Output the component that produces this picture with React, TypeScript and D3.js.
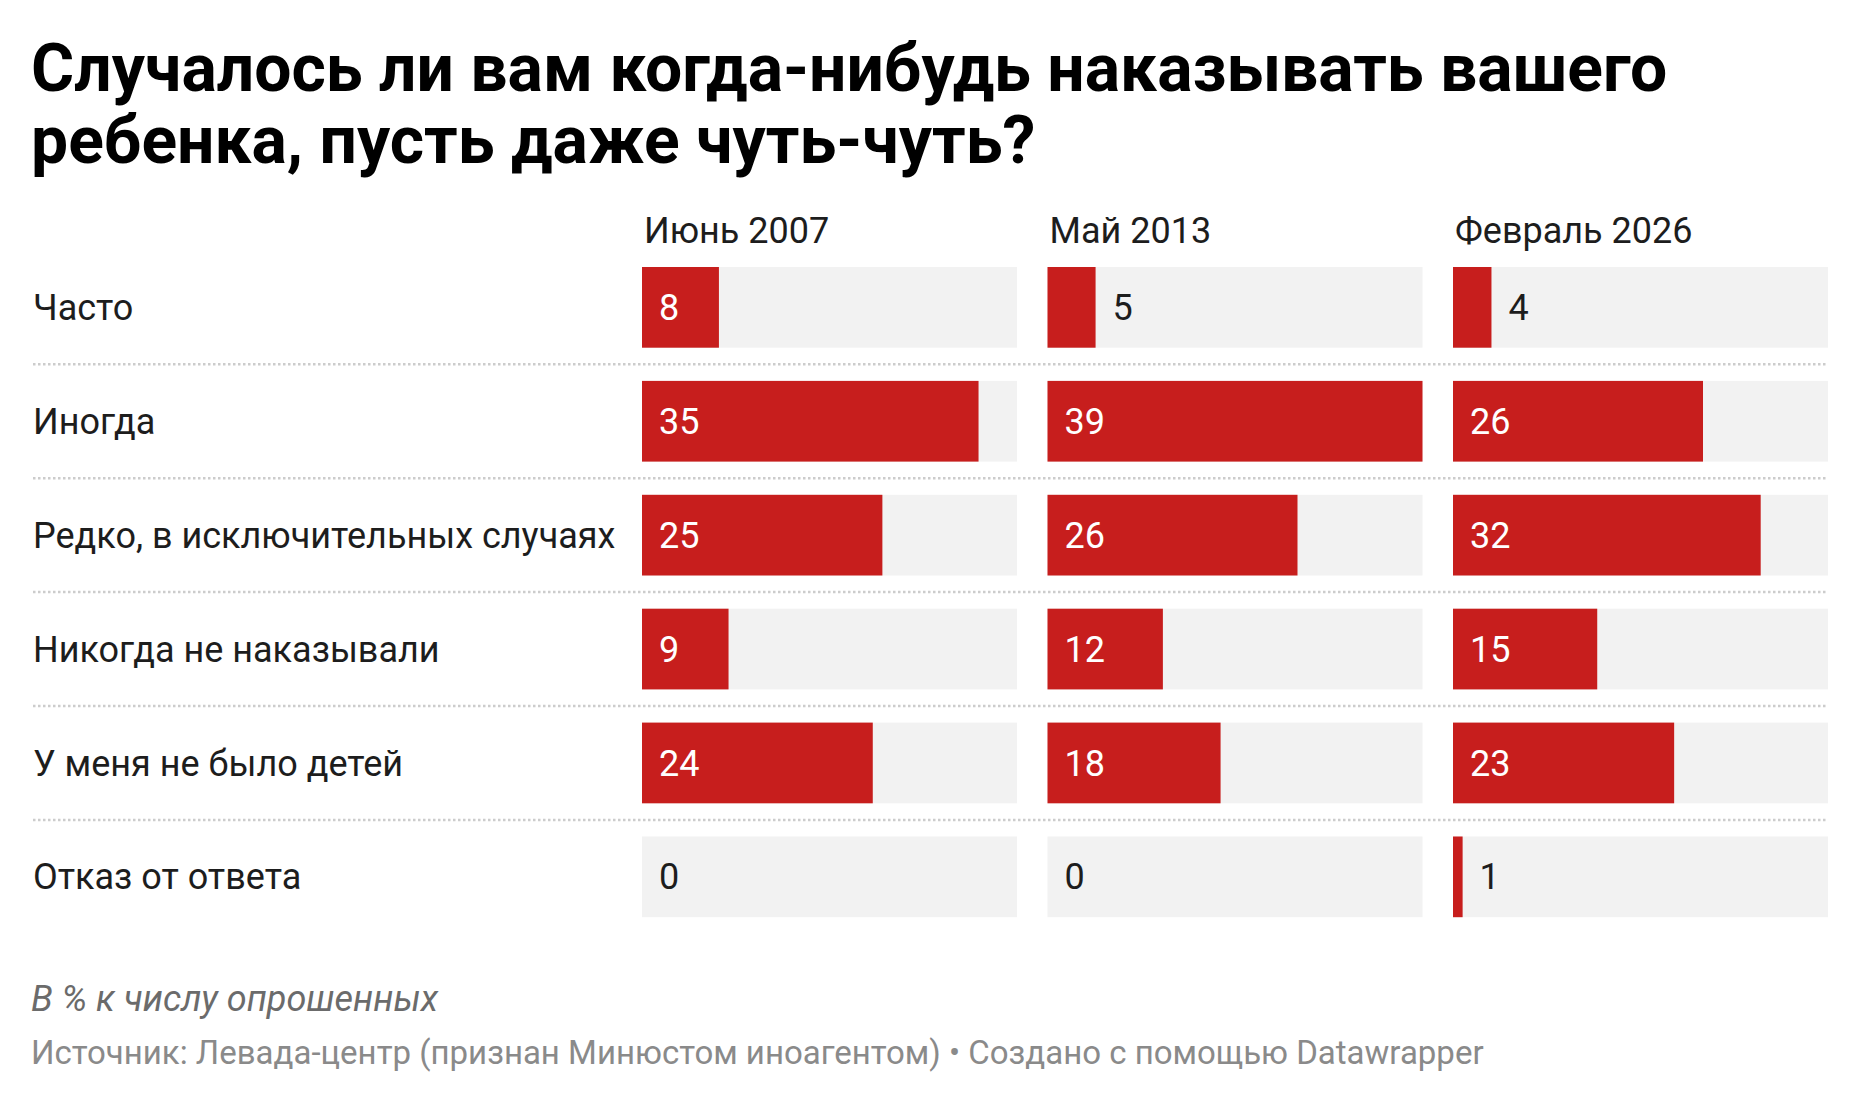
import React from "react";
import * as d3 from "d3";

const categories = [
  "Часто",
  "Иногда",
  "Редко, в исключительных случаях",
  "Никогда не наказывали",
  "У меня не было детей",
  "Отказ от ответа",
];
const periods = ["Июнь 2007", "Май 2013", "Февраль 2026"];
const june2007 = [8, 35, 25, 9, 24, 0];
const may2013 = [5, 39, 26, 12, 18, 0];
const feb2026 = [4, 26, 32, 15, 23, 1];
const seriesValues = [june2007, may2013, feb2026];

const titleLines = [
  "Случалось ли вам когда-нибудь наказывать вашего",
  "ребенка, пусть даже чуть-чуть?",
];
const noteText = "В % к числу опрошенных";
const sourceText =
  "Источник: Левада-центр (признан Минюстом иноагентом) • Создано с помощью Datawrapper";

const W = 1860;
const H = 1104;
const FONT = "Roboto, 'Noto Sans', sans-serif";
const RED = "#c71e1d";
const BG = "#f2f2f2";

export default function App() {
  const left = 33;
  const colStart = 642;
  const colW = 375;
  const colGap = 30.5;
  const rowTop = 267;
  const rowPitch = 113.9;
  const barH = 80.7;
  const fs = 36;
  const pad = 17;
  const n = categories.length;

  const colX = d3
    .scaleOrdinal<string, number>()
    .domain(periods)
    .range(periods.map((_, i) => colStart + i * (colW + colGap)));
  const x = d3.scaleLinear().domain([0, 39]).range([0, colW]);
  const y = d3
    .scaleBand()
    .domain(categories)
    .range([rowTop, rowTop + rowPitch * (n - 1) + barH])
    .paddingInner(1 - barH / rowPitch)
    .paddingOuter(0)
    .align(0);

  const lastX = colStart + 2 * (colW + colGap) + colW;

  return (
    <svg
      width={W}
      height={H}
      style={{ position: "absolute", left: 0, top: 0, background: "#fff" }}
      fontFamily={FONT}
    >
      <rect x={0} y={0} width={W} height={H} fill="#fff" />
      {titleLines.map((t, i) => (
        <text
          key={i}
          x={left - 2}
          y={91 + i * 71.5}
          fontSize={66}
          fontWeight={700}
          fill="#000"
        >
          {t}
        </text>
      ))}

      {periods.map((p) => (
        <text key={p} x={colX(p) + 2} y={243} fontSize={fs} fill="#1d1d1d">
          {p}
        </text>
      ))}

      {categories.map((c, i) => {
        const yy = y(c)!;
        const bh = y.bandwidth();
        const cy = yy + bh / 2;
        const sepY = yy + bh + (rowPitch - bh) / 2;
        return (
          <g key={c}>
            <text x={left} y={cy} dy="0.35em" fontSize={fs} fill="#1d1d1d">
              {c}
            </text>
            {i < n - 1 && (
              <line
                x1={left}
                x2={lastX}
                y1={sepY}
                y2={sepY}
                stroke="#cccccc"
                strokeWidth={2.5}
                strokeDasharray="2.5,2.5"
              />
            )}
            {periods.map((p, j) => {
              const v = seriesValues[j][i];
              const cx = colX(p);
              const bw = x(v);
              const label = String(v);
              const labelW = label.length * 0.562 * fs;
              const inside = bw >= labelW + 2 * pad;
              return (
                <g key={p}>
                  <rect x={cx} y={yy} width={colW} height={bh} fill={BG} />
                  <rect x={cx} y={yy} width={bw} height={bh} fill={RED} />
                  <text
                    x={inside ? cx + pad : cx + bw + pad}
                    y={cy}
                    dy="0.35em"
                    fontSize={fs}
                    fill={inside ? "#ffffff" : "#1d1d1d"}
                  >
                    {label}
                  </text>
                </g>
              );
            })}
          </g>
        );
      })}

      <text
        x={left - 2}
        y={1010.5}
        fontSize={36}
        fontStyle="italic"
        fill="#6b6b6b"
      >
        {noteText}
      </text>
      <text x={left - 2} y={1063.5} fontSize={33} fill="#8a8a8a">
        {sourceText}
      </text>
    </svg>
  );
}
